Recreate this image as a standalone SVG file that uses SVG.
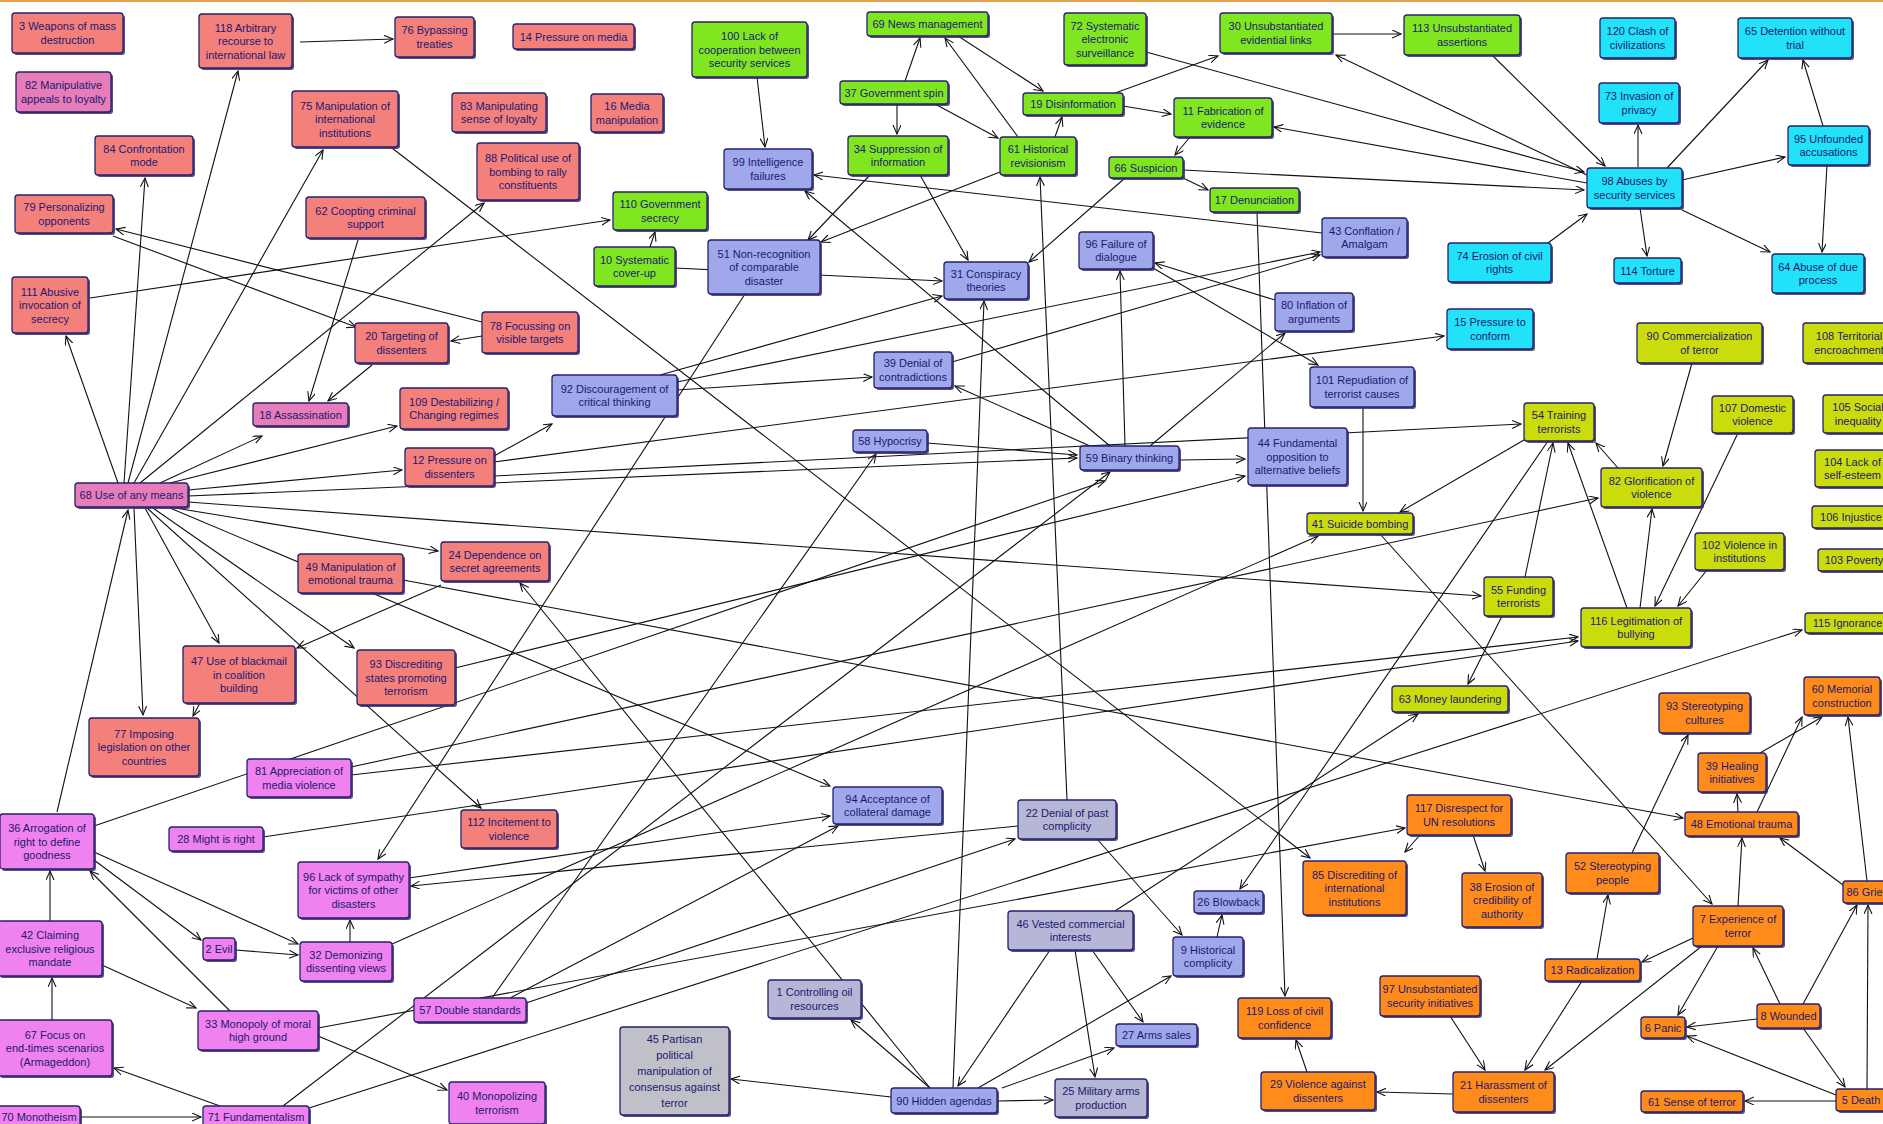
<svg xmlns="http://www.w3.org/2000/svg" width="1883" height="1124" viewBox="0 0 1883 1124">
<defs>
<marker id="ah" markerWidth="12" markerHeight="12" refX="9" refY="4" orient="auto" markerUnits="userSpaceOnUse"><path d="M0,0 L9,4 L0,8" fill="none" stroke="#111" stroke-width="1.1"/></marker>
<style>
.b{stroke:#26206e;stroke-width:1.3}
.sh{fill:#3a2f6a;opacity:.85}
.s{fill:#F4807C}.pm{fill:#E67DB8}.v{fill:#EF82EF}.g{fill:#80E620}.l{fill:#A0A8EC}.gl{fill:#B6B6D6}.gr{fill:#C0C0C8}.c{fill:#22E2FA}.y{fill:#CBDC0C}.o{fill:#FF8C1A}
text{font-family:"Liberation Sans",Arial,sans-serif;font-size:11px;fill:#1c1870;text-anchor:middle}
#connectors line{stroke:#111;stroke-width:1.1;marker-end:url(#ah)}
</style>
</defs>
<rect x="0" y="0" width="1883" height="1124" fill="#fff"/>
<rect x="0" y="0" width="1883" height="2" fill="#E8A050"/>
<g id="connectors">
<line x1="300" y1="42" x2="393" y2="39"/>
<line x1="128" y1="483" x2="238" y2="71"/>
<line x1="124" y1="483" x2="145" y2="178"/>
<line x1="134" y1="483" x2="323" y2="150"/>
<line x1="118" y1="483" x2="66" y2="336"/>
<line x1="140" y1="483" x2="484" y2="203"/>
<line x1="358" y1="240" x2="309" y2="401"/>
<line x1="372" y1="365" x2="328" y2="401"/>
<line x1="482" y1="336" x2="451" y2="341"/>
<line x1="482" y1="322" x2="116" y2="229"/>
<line x1="113" y1="236" x2="356" y2="327"/>
<line x1="90" y1="298" x2="610" y2="220"/>
<line x1="392" y1="148" x2="1310" y2="858"/>
<line x1="170" y1="483" x2="397" y2="426"/>
<line x1="188" y1="490" x2="402" y2="470"/>
<line x1="160" y1="483" x2="262" y2="436"/>
<line x1="175" y1="508" x2="438" y2="551"/>
<line x1="145" y1="508" x2="219" y2="643"/>
<line x1="134" y1="508" x2="143" y2="715"/>
<line x1="153" y1="508" x2="354" y2="648"/>
<line x1="57" y1="812" x2="128" y2="510"/>
<line x1="494" y1="456" x2="552" y2="424"/>
<line x1="494" y1="462" x2="1444" y2="336"/>
<line x1="494" y1="476" x2="1521" y2="424"/>
<line x1="188" y1="496" x2="1077" y2="458"/>
<line x1="927" y1="443" x2="1077" y2="455"/>
<line x1="1179" y1="460" x2="1245" y2="459"/>
<line x1="455" y1="668" x2="1245" y2="476"/>
<line x1="188" y1="502" x2="1481" y2="596"/>
<line x1="170" y1="508" x2="830" y2="786"/>
<line x1="147" y1="508" x2="481" y2="808"/>
<line x1="441" y1="585" x2="297" y2="648"/>
<line x1="200" y1="703" x2="193" y2="716"/>
<line x1="745" y1="294" x2="378" y2="859"/>
<line x1="757" y1="77" x2="765" y2="147"/>
<line x1="905" y1="81" x2="920" y2="38"/>
<line x1="897" y1="104" x2="897" y2="134"/>
<line x1="935" y1="104" x2="998" y2="138"/>
<line x1="1018" y1="137" x2="945" y2="38"/>
<line x1="958" y1="36" x2="1043" y2="91"/>
<line x1="1055" y1="137" x2="1062" y2="117"/>
<line x1="1123" y1="106" x2="1171" y2="114"/>
<line x1="1115" y1="93" x2="1218" y2="56"/>
<line x1="1332" y1="34" x2="1401" y2="34"/>
<line x1="1146" y1="52" x2="1584" y2="172"/>
<line x1="1493" y1="56" x2="1605" y2="166"/>
<line x1="1638" y1="167" x2="1638" y2="125"/>
<line x1="1667" y1="168" x2="1768" y2="60"/>
<line x1="1823" y1="126" x2="1803" y2="60"/>
<line x1="1682" y1="180" x2="1785" y2="157"/>
<line x1="1827" y1="165" x2="1822" y2="252"/>
<line x1="1682" y1="210" x2="1770" y2="252"/>
<line x1="1640" y1="208" x2="1647" y2="256"/>
<line x1="1548" y1="243" x2="1587" y2="214"/>
<line x1="1587" y1="175" x2="1336" y2="55"/>
<line x1="1587" y1="183" x2="1274" y2="127"/>
<line x1="1183" y1="170" x2="1584" y2="190"/>
<line x1="1190" y1="137" x2="1175" y2="155"/>
<line x1="1183" y1="178" x2="1208" y2="190"/>
<line x1="1125" y1="178" x2="1029" y2="262"/>
<line x1="1322" y1="233" x2="814" y2="175"/>
<line x1="1000" y1="172" x2="821" y2="242"/>
<line x1="870" y1="175" x2="808" y2="240"/>
<line x1="920" y1="175" x2="968" y2="260"/>
<line x1="1110" y1="446" x2="805" y2="191"/>
<line x1="1090" y1="446" x2="955" y2="386"/>
<line x1="1150" y1="446" x2="1285" y2="333"/>
<line x1="677" y1="382" x2="1320" y2="252"/>
<line x1="952" y1="362" x2="1320" y2="255"/>
<line x1="1125" y1="446" x2="1120" y2="271"/>
<line x1="953" y1="1088" x2="984" y2="301"/>
<line x1="1067" y1="800" x2="1040" y2="177"/>
<line x1="1257" y1="212" x2="1285" y2="996"/>
<line x1="1363" y1="408" x2="1363" y2="511"/>
<line x1="1524" y1="440" x2="1400" y2="512"/>
<line x1="1380" y1="534" x2="1712" y2="904"/>
<line x1="677" y1="390" x2="872" y2="377"/>
<line x1="930" y1="1088" x2="520" y2="583"/>
<line x1="492" y1="998" x2="876" y2="454"/>
<line x1="94" y1="826" x2="1105" y2="481"/>
<line x1="351" y1="767" x2="1598" y2="498"/>
<line x1="351" y1="775" x2="1578" y2="637"/>
<line x1="263" y1="837" x2="1578" y2="641"/>
<line x1="309" y1="1108" x2="1802" y2="630"/>
<line x1="283" y1="1106" x2="1110" y2="472"/>
<line x1="1018" y1="826" x2="411" y2="886"/>
<line x1="526" y1="1003" x2="1015" y2="839"/>
<line x1="409" y1="878" x2="830" y2="816"/>
<line x1="510" y1="998" x2="838" y2="826"/>
<line x1="1548" y1="441" x2="1240" y2="889"/>
<line x1="1525" y1="577" x2="1553" y2="443"/>
<line x1="1627" y1="608" x2="1568" y2="443"/>
<line x1="1618" y1="468" x2="1596" y2="443"/>
<line x1="1692" y1="363" x2="1663" y2="466"/>
<line x1="1640" y1="608" x2="1652" y2="509"/>
<line x1="1738" y1="433" x2="1655" y2="606"/>
<line x1="1707" y1="570" x2="1678" y2="606"/>
<line x1="1502" y1="616" x2="1468" y2="684"/>
<line x1="1757" y1="812" x2="1802" y2="717"/>
<line x1="1867" y1="881" x2="1848" y2="717"/>
<line x1="1760" y1="753" x2="1822" y2="717"/>
<line x1="1632" y1="853" x2="1688" y2="735"/>
<line x1="1420" y1="835" x2="1405" y2="852"/>
<line x1="1473" y1="835" x2="1485" y2="871"/>
<line x1="403" y1="580" x2="1683" y2="818"/>
<line x1="1738" y1="906" x2="1742" y2="838"/>
<line x1="1738" y1="812" x2="1737" y2="794"/>
<line x1="1843" y1="885" x2="1780" y2="838"/>
<line x1="1867" y1="1089" x2="1868" y2="905"/>
<line x1="1803" y1="1004" x2="1857" y2="905"/>
<line x1="1597" y1="959" x2="1608" y2="895"/>
<line x1="1693" y1="938" x2="1642" y2="962"/>
<line x1="1718" y1="946" x2="1678" y2="1015"/>
<line x1="1702" y1="946" x2="1545" y2="1070"/>
<line x1="1582" y1="981" x2="1525" y2="1070"/>
<line x1="1450" y1="1016" x2="1485" y2="1070"/>
<line x1="1780" y1="1004" x2="1753" y2="948"/>
<line x1="1757" y1="1019" x2="1687" y2="1027"/>
<line x1="1803" y1="1028" x2="1845" y2="1087"/>
<line x1="1836" y1="1095" x2="1687" y2="1036"/>
<line x1="1836" y1="1101" x2="1745" y2="1101"/>
<line x1="1453" y1="1094" x2="1377" y2="1092"/>
<line x1="1307" y1="1072" x2="1296" y2="1040"/>
<line x1="1050" y1="950" x2="958" y2="1086"/>
<line x1="1075" y1="950" x2="1095" y2="1077"/>
<line x1="1092" y1="950" x2="1143" y2="1022"/>
<line x1="1002" y1="1088" x2="1114" y2="1048"/>
<line x1="997" y1="1101" x2="1053" y2="1100"/>
<line x1="978" y1="1088" x2="1171" y2="976"/>
<line x1="1217" y1="937" x2="1222" y2="915"/>
<line x1="1097" y1="839" x2="1182" y2="935"/>
<line x1="1115" y1="911" x2="1418" y2="714"/>
<line x1="930" y1="1088" x2="851" y2="1020"/>
<line x1="891" y1="1097" x2="731" y2="1079"/>
<line x1="675" y1="268" x2="942" y2="281"/>
<line x1="650" y1="247" x2="655" y2="232"/>
<line x1="660" y1="375" x2="942" y2="296"/>
<line x1="1275" y1="300" x2="1155" y2="263"/>
<line x1="1153" y1="268" x2="1318" y2="365"/>
<line x1="80" y1="1117" x2="201" y2="1117"/>
<line x1="220" y1="1106" x2="114" y2="1068"/>
<line x1="52" y1="1020" x2="52" y2="978"/>
<line x1="50" y1="921" x2="50" y2="871"/>
<line x1="102" y1="965" x2="196" y2="1008"/>
<line x1="94" y1="860" x2="201" y2="940"/>
<line x1="94" y1="852" x2="298" y2="944"/>
<line x1="235" y1="950" x2="298" y2="955"/>
<line x1="350" y1="942" x2="350" y2="920"/>
<line x1="230" y1="1011" x2="90" y2="871"/>
<line x1="318" y1="1036" x2="447" y2="1090"/>
<line x1="318" y1="1028" x2="1405" y2="828"/>
<line x1="392" y1="944" x2="1318" y2="536"/>
</g>
<g id="nodes">
<g id="n3"><rect class="sh" x="14" y="15" width="111" height="40" rx="3"/><rect class="b s" x="12" y="13" width="111" height="40" rx="3"/><text x="67.5" y="30.25">3 Weapons of mass<tspan x="67.5" dy="13.5">destruction</tspan></text></g>
<g id="n82a"><rect class="sh" x="18" y="74" width="95" height="40" rx="3"/><rect class="b pm" x="16" y="72" width="95" height="40" rx="3"/><text x="63.5" y="89.25">82 Manipulative<tspan x="63.5" dy="13.5">appeals to loyalty</tspan></text></g>
<g id="n118"><rect class="sh" x="201" y="16" width="93" height="54" rx="3"/><rect class="b s" x="199" y="14" width="93" height="54" rx="3"/><text x="245.5" y="31.5">118 Arbitrary<tspan x="245.5" dy="13.5">recourse to</tspan><tspan x="245.5" dy="13.5">international law</tspan></text></g>
<g id="n76"><rect class="sh" x="397" y="19" width="79" height="40" rx="3"/><rect class="b s" x="395" y="17" width="79" height="40" rx="3"/><text x="434.5" y="34.25">76 Bypassing<tspan x="434.5" dy="13.5">treaties</tspan></text></g>
<g id="n14"><rect class="sh" x="515" y="26" width="121" height="25" rx="3"/><rect class="b s" x="513" y="24" width="121" height="25" rx="3"/><text x="573.5" y="40.5">14 Pressure on media</text></g>
<g id="n84"><rect class="sh" x="97" y="138" width="98" height="39" rx="3"/><rect class="b s" x="95" y="136" width="98" height="39" rx="3"/><text x="144" y="152.75">84 Confrontation<tspan x="144" dy="13.5">mode</tspan></text></g>
<g id="n75"><rect class="sh" x="294" y="93" width="106" height="56" rx="3"/><rect class="b s" x="292" y="91" width="106" height="56" rx="3"/><text x="345" y="109.5">75 Manipulation of<tspan x="345" dy="13.5">international</tspan><tspan x="345" dy="13.5">institutions</tspan></text></g>
<g id="n83"><rect class="sh" x="454" y="95" width="94" height="39" rx="3"/><rect class="b s" x="452" y="93" width="94" height="39" rx="3"/><text x="499" y="109.75">83 Manipulating<tspan x="499" dy="13.5">sense of loyalty</tspan></text></g>
<g id="n16"><rect class="sh" x="593" y="96" width="72" height="38" rx="3"/><rect class="b s" x="591" y="94" width="72" height="38" rx="3"/><text x="627" y="110.25">16 Media<tspan x="627" dy="13.5">manipulation</tspan></text></g>
<g id="n88"><rect class="sh" x="479" y="145" width="102" height="57" rx="3"/><rect class="b s" x="477" y="143" width="102" height="57" rx="3"/><text x="528" y="162">88 Political use of<tspan x="528" dy="13.5">bombing to rally</tspan><tspan x="528" dy="13.5">constituents</tspan></text></g>
<g id="n79"><rect class="sh" x="17" y="197" width="98" height="38" rx="3"/><rect class="b s" x="15" y="195" width="98" height="38" rx="3"/><text x="64" y="211.25">79 Personalizing<tspan x="64" dy="13.5">opponents</tspan></text></g>
<g id="n62"><rect class="sh" x="308" y="199" width="119" height="41" rx="3"/><rect class="b s" x="306" y="197" width="119" height="41" rx="3"/><text x="365.5" y="214.75">62 Coopting criminal<tspan x="365.5" dy="13.5">support</tspan></text></g>
<g id="n111"><rect class="sh" x="14" y="279" width="76" height="56" rx="3"/><rect class="b s" x="12" y="277" width="76" height="56" rx="3"/><text x="50" y="295.5">111 Abusive<tspan x="50" dy="13.5">invocation of</tspan><tspan x="50" dy="13.5">secrecy</tspan></text></g>
<g id="n20"><rect class="sh" x="357" y="325" width="93" height="40" rx="3"/><rect class="b s" x="355" y="323" width="93" height="40" rx="3"/><text x="401.5" y="340.25">20 Targeting of<tspan x="401.5" dy="13.5">dissenters</tspan></text></g>
<g id="n78"><rect class="sh" x="484" y="314" width="96" height="41" rx="3"/><rect class="b s" x="482" y="312" width="96" height="41" rx="3"/><text x="530" y="329.75">78 Focussing on<tspan x="530" dy="13.5">visible targets</tspan></text></g>
<g id="n109"><rect class="sh" x="402" y="390" width="108" height="41" rx="3"/><rect class="b s" x="400" y="388" width="108" height="41" rx="3"/><text x="454" y="405.75">109 Destabilizing /<tspan x="454" dy="13.5">Changing regimes</tspan></text></g>
<g id="n12"><rect class="sh" x="407" y="450" width="89" height="38" rx="3"/><rect class="b s" x="405" y="448" width="89" height="38" rx="3"/><text x="449.5" y="464.25">12 Pressure on<tspan x="449.5" dy="13.5">dissenters</tspan></text></g>
<g id="n24"><rect class="sh" x="443" y="544" width="108" height="39" rx="3"/><rect class="b s" x="441" y="542" width="108" height="39" rx="3"/><text x="495" y="558.75">24 Dependence on<tspan x="495" dy="13.5">secret agreements</tspan></text></g>
<g id="n49"><rect class="sh" x="300" y="556" width="105" height="39" rx="3"/><rect class="b s" x="298" y="554" width="105" height="39" rx="3"/><text x="350.5" y="570.75">49 Manipulation of<tspan x="350.5" dy="13.5">emotional trauma</tspan></text></g>
<g id="n47"><rect class="sh" x="185" y="648" width="112" height="57" rx="3"/><rect class="b s" x="183" y="646" width="112" height="57" rx="3"/><text x="239" y="665">47 Use of blackmail<tspan x="239" dy="13.5">in coalition</tspan><tspan x="239" dy="13.5">building</tspan></text></g>
<g id="n93a"><rect class="sh" x="359" y="652" width="98" height="55" rx="3"/><rect class="b s" x="357" y="650" width="98" height="55" rx="3"/><text x="406" y="668">93 Discrediting<tspan x="406" dy="13.5">states promoting</tspan><tspan x="406" dy="13.5">terrorism</tspan></text></g>
<g id="n77"><rect class="sh" x="91" y="720" width="110" height="58" rx="3"/><rect class="b s" x="89" y="718" width="110" height="58" rx="3"/><text x="144" y="737.5">77 Imposing<tspan x="144" dy="13.5">legislation on other</tspan><tspan x="144" dy="13.5">countries</tspan></text></g>
<g id="n112"><rect class="sh" x="463" y="812" width="96" height="38" rx="3"/><rect class="b s" x="461" y="810" width="96" height="38" rx="3"/><text x="509" y="826.25">112 Incitement to<tspan x="509" dy="13.5">violence</tspan></text></g>
<g id="n68"><rect class="sh" x="77" y="485" width="113" height="24" rx="3"/><rect class="b pm" x="75" y="483" width="113" height="24" rx="3"/><text x="131.5" y="499">68 Use of any means</text></g>
<g id="n18"><rect class="sh" x="255" y="405" width="95" height="23" rx="3"/><rect class="b pm" x="253" y="403" width="95" height="23" rx="3"/><text x="300.5" y="418.5">18 Assassination</text></g>
<g id="n81"><rect class="sh" x="249" y="761" width="104" height="38" rx="3"/><rect class="b v" x="247" y="759" width="104" height="38" rx="3"/><text x="299" y="775.25">81 Appreciation of<tspan x="299" dy="13.5">media violence</tspan></text></g>
<g id="n36"><rect class="sh" x="2" y="816" width="94" height="55" rx="3"/><rect class="b v" x="0" y="814" width="94" height="55" rx="3"/><text x="47" y="832">36 Arrogation of<tspan x="47" dy="13.5">right to define</tspan><tspan x="47" dy="13.5">goodness</tspan></text></g>
<g id="n28"><rect class="sh" x="171" y="829" width="94" height="24" rx="3"/><rect class="b v" x="169" y="827" width="94" height="24" rx="3"/><text x="216" y="843">28 Might is right</text></g>
<g id="n96a"><rect class="sh" x="300" y="864" width="111" height="56" rx="3"/><rect class="b v" x="298" y="862" width="111" height="56" rx="3"/><text x="353.5" y="880.5">96 Lack of sympathy<tspan x="353.5" dy="13.5">for victims of other</tspan><tspan x="353.5" dy="13.5">disasters</tspan></text></g>
<g id="n42"><rect class="sh" x="0" y="923" width="104" height="55" rx="3"/><rect class="b v" x="-2" y="921" width="104" height="55" rx="3"/><text x="50" y="939">42 Claiming<tspan x="50" dy="13.5">exclusive religious</tspan><tspan x="50" dy="13.5">mandate</tspan></text></g>
<g id="n2"><rect class="sh" x="205" y="940" width="32" height="22" rx="3"/><rect class="b v" x="203" y="938" width="32" height="22" rx="3"/><text x="219" y="953">2 Evil</text></g>
<g id="n32"><rect class="sh" x="302" y="944" width="92" height="39" rx="3"/><rect class="b v" x="300" y="942" width="92" height="39" rx="3"/><text x="346" y="958.75">32 Demonizing<tspan x="346" dy="13.5">dissenting views</tspan></text></g>
<g id="n57"><rect class="sh" x="416" y="1000" width="112" height="24" rx="3"/><rect class="b v" x="414" y="998" width="112" height="24" rx="3"/><text x="470" y="1014">57 Double standards</text></g>
<g id="n33"><rect class="sh" x="200" y="1013" width="120" height="39" rx="3"/><rect class="b v" x="198" y="1011" width="120" height="39" rx="3"/><text x="258" y="1027.75">33 Monopoly of moral<tspan x="258" dy="13.5">high ground</tspan></text></g>
<g id="n67"><rect class="sh" x="0" y="1022" width="114" height="56" rx="3"/><rect class="b v" x="-2" y="1020" width="114" height="56" rx="3"/><text x="55" y="1038.5">67 Focus on<tspan x="55" dy="13.5">end-times scenarios</tspan><tspan x="55" dy="13.5">(Armageddon)</tspan></text></g>
<g id="n70"><rect class="sh" x="0" y="1108" width="82" height="22" rx="3"/><rect class="b v" x="-2" y="1106" width="82" height="22" rx="3"/><text x="39" y="1121">70 Monotheism</text></g>
<g id="n71"><rect class="sh" x="205" y="1108" width="106" height="22" rx="3"/><rect class="b v" x="203" y="1106" width="106" height="22" rx="3"/><text x="256" y="1121">71 Fundamentalism</text></g>
<g id="n40"><rect class="sh" x="451" y="1084" width="96" height="42" rx="3"/><rect class="b v" x="449" y="1082" width="96" height="42" rx="3"/><text x="497" y="1100.25">40 Monopolizing<tspan x="497" dy="13.5">terrorism</tspan></text></g>
<g id="n100"><rect class="sh" x="694" y="24" width="115" height="55" rx="3"/><rect class="b g" x="692" y="22" width="115" height="55" rx="3"/><text x="749.5" y="40">100 Lack of<tspan x="749.5" dy="13.5">cooperation between</tspan><tspan x="749.5" dy="13.5">security services</tspan></text></g>
<g id="n69"><rect class="sh" x="869" y="14" width="121" height="24" rx="3"/><rect class="b g" x="867" y="12" width="121" height="24" rx="3"/><text x="927.5" y="28">69 News management</text></g>
<g id="n37"><rect class="sh" x="842" y="83" width="108" height="23" rx="3"/><rect class="b g" x="840" y="81" width="108" height="23" rx="3"/><text x="894" y="96.5">37 Government spin</text></g>
<g id="n34"><rect class="sh" x="850" y="138" width="100" height="39" rx="3"/><rect class="b g" x="848" y="136" width="100" height="39" rx="3"/><text x="898" y="152.75">34 Suppression of<tspan x="898" dy="13.5">information</tspan></text></g>
<g id="n110"><rect class="sh" x="615" y="194" width="94" height="38" rx="3"/><rect class="b g" x="613" y="192" width="94" height="38" rx="3"/><text x="660" y="208.25">110 Government<tspan x="660" dy="13.5">secrecy</tspan></text></g>
<g id="n10"><rect class="sh" x="596" y="249" width="81" height="39" rx="3"/><rect class="b g" x="594" y="247" width="81" height="39" rx="3"/><text x="634.5" y="263.75">10 Systematic<tspan x="634.5" dy="13.5">cover-up</tspan></text></g>
<g id="n72"><rect class="sh" x="1066" y="15" width="82" height="52" rx="3"/><rect class="b g" x="1064" y="13" width="82" height="52" rx="3"/><text x="1105" y="29.5">72 Systematic<tspan x="1105" dy="13.5">electronic</tspan><tspan x="1105" dy="13.5">surveillance</tspan></text></g>
<g id="n30"><rect class="sh" x="1222" y="15" width="112" height="40" rx="3"/><rect class="b g" x="1220" y="13" width="112" height="40" rx="3"/><text x="1276" y="30.25">30 Unsubstantiated<tspan x="1276" dy="13.5">evidential links</tspan></text></g>
<g id="n113"><rect class="sh" x="1406" y="17" width="116" height="40" rx="3"/><rect class="b g" x="1404" y="15" width="116" height="40" rx="3"/><text x="1462" y="32.25">113 Unsubstantiated<tspan x="1462" dy="13.5">assertions</tspan></text></g>
<g id="n19"><rect class="sh" x="1025" y="95" width="100" height="22" rx="3"/><rect class="b g" x="1023" y="93" width="100" height="22" rx="3"/><text x="1073" y="108">19 Disinformation</text></g>
<g id="n11"><rect class="sh" x="1176" y="100" width="98" height="39" rx="3"/><rect class="b g" x="1174" y="98" width="98" height="39" rx="3"/><text x="1223" y="114.75">11 Fabrication of<tspan x="1223" dy="13.5">evidence</tspan></text></g>
<g id="n61a"><rect class="sh" x="1002" y="139" width="76" height="38" rx="3"/><rect class="b g" x="1000" y="137" width="76" height="38" rx="3"/><text x="1038" y="153.25">61 Historical<tspan x="1038" dy="13.5">revisionism</tspan></text></g>
<g id="n66"><rect class="sh" x="1111" y="159" width="74" height="21" rx="3"/><rect class="b g" x="1109" y="157" width="74" height="21" rx="3"/><text x="1146" y="171.5">66 Suspicion</text></g>
<g id="n17"><rect class="sh" x="1212" y="190" width="89" height="24" rx="3"/><rect class="b g" x="1210" y="188" width="89" height="24" rx="3"/><text x="1254.5" y="204">17 Denunciation</text></g>
<g id="n99"><rect class="sh" x="726" y="151" width="88" height="40" rx="3"/><rect class="b l" x="724" y="149" width="88" height="40" rx="3"/><text x="768" y="166.25">99 Intelligence<tspan x="768" dy="13.5">failures</tspan></text></g>
<g id="n51"><rect class="sh" x="710" y="242" width="112" height="54" rx="3"/><rect class="b l" x="708" y="240" width="112" height="54" rx="3"/><text x="764" y="257.5">51 Non-recognition<tspan x="764" dy="13.5">of comparable</tspan><tspan x="764" dy="13.5">disaster</tspan></text></g>
<g id="n31"><rect class="sh" x="946" y="264" width="84" height="37" rx="3"/><rect class="b l" x="944" y="262" width="84" height="37" rx="3"/><text x="986" y="277.75">31 Conspiracy<tspan x="986" dy="13.5">theories</tspan></text></g>
<g id="n96b"><rect class="sh" x="1081" y="234" width="74" height="37" rx="3"/><rect class="b l" x="1079" y="232" width="74" height="37" rx="3"/><text x="1116" y="247.75">96 Failure of<tspan x="1116" dy="13.5">dialogue</tspan></text></g>
<g id="n43"><rect class="sh" x="1324" y="220" width="85" height="39" rx="3"/><rect class="b l" x="1322" y="218" width="85" height="39" rx="3"/><text x="1364.5" y="234.75">43 Conflation /<tspan x="1364.5" dy="13.5">Amalgam</tspan></text></g>
<g id="n80"><rect class="sh" x="1277" y="295" width="78" height="38" rx="3"/><rect class="b l" x="1275" y="293" width="78" height="38" rx="3"/><text x="1314" y="309.25">80 Inflation of<tspan x="1314" dy="13.5">arguments</tspan></text></g>
<g id="n39a"><rect class="sh" x="876" y="354" width="78" height="36" rx="3"/><rect class="b l" x="874" y="352" width="78" height="36" rx="3"/><text x="913" y="367.25">39 Denial of<tspan x="913" dy="13.5">contradictions</tspan></text></g>
<g id="n92"><rect class="sh" x="554" y="377" width="125" height="41" rx="3"/><rect class="b l" x="552" y="375" width="125" height="41" rx="3"/><text x="614.5" y="392.75">92 Discouragement of<tspan x="614.5" dy="13.5">critical thinking</tspan></text></g>
<g id="n58"><rect class="sh" x="855" y="432" width="74" height="22" rx="3"/><rect class="b l" x="853" y="430" width="74" height="22" rx="3"/><text x="890" y="445">58 Hypocrisy</text></g>
<g id="n59"><rect class="sh" x="1082" y="448" width="99" height="24" rx="3"/><rect class="b l" x="1080" y="446" width="99" height="24" rx="3"/><text x="1129.5" y="462">59 Binary thinking</text></g>
<g id="n44"><rect class="sh" x="1250" y="430" width="99" height="57" rx="3"/><rect class="b l" x="1248" y="428" width="99" height="57" rx="3"/><text x="1297.5" y="447">44 Fundamental<tspan x="1297.5" dy="13.5">opposition to</tspan><tspan x="1297.5" dy="13.5">alternative beliefs</tspan></text></g>
<g id="n101"><rect class="sh" x="1312" y="369" width="104" height="40" rx="3"/><rect class="b l" x="1310" y="367" width="104" height="40" rx="3"/><text x="1362" y="384.25">101 Repudiation of<tspan x="1362" dy="13.5">terrorist causes</tspan></text></g>
<g id="n94"><rect class="sh" x="835" y="789" width="109" height="37" rx="3"/><rect class="b l" x="833" y="787" width="109" height="37" rx="3"/><text x="887.5" y="802.75">94 Acceptance of<tspan x="887.5" dy="13.5">collateral damage</tspan></text></g>
<g id="n26"><rect class="sh" x="1196" y="893" width="69" height="22" rx="3"/><rect class="b l" x="1194" y="891" width="69" height="22" rx="3"/><text x="1228.5" y="906">26 Blowback</text></g>
<g id="n9"><rect class="sh" x="1175" y="939" width="70" height="39" rx="3"/><rect class="b l" x="1173" y="937" width="70" height="39" rx="3"/><text x="1208" y="953.75">9 Historical<tspan x="1208" dy="13.5">complicity</tspan></text></g>
<g id="n27"><rect class="sh" x="1118" y="1026" width="81" height="22" rx="3"/><rect class="b l" x="1116" y="1024" width="81" height="22" rx="3"/><text x="1156.5" y="1039">27 Arms sales</text></g>
<g id="n22"><rect class="sh" x="1020" y="802" width="98" height="39" rx="3"/><rect class="b gl" x="1018" y="800" width="98" height="39" rx="3"/><text x="1067" y="816.75">22 Denial of past<tspan x="1067" dy="13.5">complicity</tspan></text></g>
<g id="n46"><rect class="sh" x="1010" y="913" width="125" height="39" rx="3"/><rect class="b gl" x="1008" y="911" width="125" height="39" rx="3"/><text x="1070.5" y="927.75">46 Vested commercial<tspan x="1070.5" dy="13.5">interests</tspan></text></g>
<g id="n1"><rect class="sh" x="770" y="982" width="93" height="38" rx="3"/><rect class="b gl" x="768" y="980" width="93" height="38" rx="3"/><text x="814.5" y="996.25">1 Controlling oil<tspan x="814.5" dy="13.5">resources</tspan></text></g>
<g id="n25"><rect class="sh" x="1057" y="1081" width="92" height="38" rx="3"/><rect class="b gl" x="1055" y="1079" width="92" height="38" rx="3"/><text x="1101" y="1095.25">25 Military arms<tspan x="1101" dy="13.5">production</tspan></text></g>
<g id="n90h"><rect class="sh" x="893" y="1090" width="106" height="25" rx="3"/><rect class="b l" x="891" y="1088" width="106" height="25" rx="3"/><text x="944" y="1104.5">90 Hidden agendas</text></g>
<g id="n45"><rect class="sh" x="622" y="1029" width="109" height="88" rx="3"/><rect class="b gr" x="620" y="1027" width="109" height="88" rx="3"/><text x="674.5" y="1043">45 Partisan<tspan x="674.5" dy="16">political</tspan><tspan x="674.5" dy="16">manipulation of</tspan><tspan x="674.5" dy="16">consensus against</tspan><tspan x="674.5" dy="16">terror</tspan></text></g>
<g id="n120"><rect class="sh" x="1602" y="20" width="75" height="40" rx="3"/><rect class="b c" x="1600" y="18" width="75" height="40" rx="3"/><text x="1637.5" y="35.25">120 Clash of<tspan x="1637.5" dy="13.5">civilizations</tspan></text></g>
<g id="n65"><rect class="sh" x="1740" y="20" width="114" height="40" rx="3"/><rect class="b c" x="1738" y="18" width="114" height="40" rx="3"/><text x="1795" y="35.25">65 Detention without<tspan x="1795" dy="13.5">trial</tspan></text></g>
<g id="n73"><rect class="sh" x="1601" y="85" width="80" height="40" rx="3"/><rect class="b c" x="1599" y="83" width="80" height="40" rx="3"/><text x="1639" y="100.25">73 Invasion of<tspan x="1639" dy="13.5">privacy</tspan></text></g>
<g id="n95"><rect class="sh" x="1790" y="128" width="81" height="39" rx="3"/><rect class="b c" x="1788" y="126" width="81" height="39" rx="3"/><text x="1828.5" y="142.75">95 Unfounded<tspan x="1828.5" dy="13.5">accusations</tspan></text></g>
<g id="n98"><rect class="sh" x="1589" y="170" width="95" height="40" rx="3"/><rect class="b c" x="1587" y="168" width="95" height="40" rx="3"/><text x="1634.5" y="185.25">98 Abuses by<tspan x="1634.5" dy="13.5">security services</tspan></text></g>
<g id="n74"><rect class="sh" x="1450" y="245" width="103" height="39" rx="3"/><rect class="b c" x="1448" y="243" width="103" height="39" rx="3"/><text x="1499.5" y="259.75">74 Erosion of civil<tspan x="1499.5" dy="13.5">rights</tspan></text></g>
<g id="n114"><rect class="sh" x="1616" y="260" width="67" height="25" rx="3"/><rect class="b c" x="1614" y="258" width="67" height="25" rx="3"/><text x="1647.5" y="274.5">114 Torture</text></g>
<g id="n64"><rect class="sh" x="1774" y="256" width="92" height="39" rx="3"/><rect class="b c" x="1772" y="254" width="92" height="39" rx="3"/><text x="1818" y="270.75">64 Abuse of due<tspan x="1818" dy="13.5">process</tspan></text></g>
<g id="n15"><rect class="sh" x="1449" y="311" width="86" height="40" rx="3"/><rect class="b c" x="1447" y="309" width="86" height="40" rx="3"/><text x="1490" y="326.25">15 Pressure to<tspan x="1490" dy="13.5">conform</tspan></text></g>
<g id="n90c"><rect class="sh" x="1639" y="325" width="125" height="40" rx="3"/><rect class="b y" x="1637" y="323" width="125" height="40" rx="3"/><text x="1699.5" y="340.25">90 Commercialization<tspan x="1699.5" dy="13.5">of terror</tspan></text></g>
<g id="n108"><rect class="sh" x="1805" y="325" width="92" height="40" rx="3"/><rect class="b y" x="1803" y="323" width="92" height="40" rx="3"/><text x="1849" y="340.25">108 Territorial<tspan x="1849" dy="13.5">encroachment</tspan></text></g>
<g id="n54"><rect class="sh" x="1526" y="405" width="70" height="38" rx="3"/><rect class="b y" x="1524" y="403" width="70" height="38" rx="3"/><text x="1559" y="419.25">54 Training<tspan x="1559" dy="13.5">terrorists</tspan></text></g>
<g id="n107"><rect class="sh" x="1714" y="398" width="81" height="37" rx="3"/><rect class="b y" x="1712" y="396" width="81" height="37" rx="3"/><text x="1752.5" y="411.75">107 Domestic<tspan x="1752.5" dy="13.5">violence</tspan></text></g>
<g id="n105"><rect class="sh" x="1825" y="397" width="70" height="38" rx="3"/><rect class="b y" x="1823" y="395" width="70" height="38" rx="3"/><text x="1858" y="411.25">105 Social<tspan x="1858" dy="13.5">inequality</tspan></text></g>
<g id="n82b"><rect class="sh" x="1603" y="470" width="101" height="39" rx="3"/><rect class="b y" x="1601" y="468" width="101" height="39" rx="3"/><text x="1651.5" y="484.75">82 Glorification of<tspan x="1651.5" dy="13.5">violence</tspan></text></g>
<g id="n104"><rect class="sh" x="1817" y="452" width="75" height="37" rx="3"/><rect class="b y" x="1815" y="450" width="75" height="37" rx="3"/><text x="1852.5" y="465.75">104 Lack of<tspan x="1852.5" dy="13.5">self-esteem</tspan></text></g>
<g id="n106"><rect class="sh" x="1814" y="508" width="78" height="22" rx="3"/><rect class="b y" x="1812" y="506" width="78" height="22" rx="3"/><text x="1851" y="521">106 Injustice</text></g>
<g id="n102"><rect class="sh" x="1697" y="535" width="89" height="37" rx="3"/><rect class="b y" x="1695" y="533" width="89" height="37" rx="3"/><text x="1739.5" y="548.75">102 Violence in<tspan x="1739.5" dy="13.5">institutions</tspan></text></g>
<g id="n103"><rect class="sh" x="1820" y="551" width="72" height="22" rx="3"/><rect class="b y" x="1818" y="549" width="72" height="22" rx="3"/><text x="1854" y="564">103 Poverty</text></g>
<g id="n41"><rect class="sh" x="1309" y="515" width="106" height="21" rx="3"/><rect class="b y" x="1307" y="513" width="106" height="21" rx="3"/><text x="1360" y="527.5">41 Suicide bombing</text></g>
<g id="n55"><rect class="sh" x="1486" y="579" width="69" height="39" rx="3"/><rect class="b y" x="1484" y="577" width="69" height="39" rx="3"/><text x="1518.5" y="593.75">55 Funding<tspan x="1518.5" dy="13.5">terrorists</tspan></text></g>
<g id="n116"><rect class="sh" x="1583" y="610" width="110" height="39" rx="3"/><rect class="b y" x="1581" y="608" width="110" height="39" rx="3"/><text x="1636" y="624.75">116 Legitimation of<tspan x="1636" dy="13.5">bullying</tspan></text></g>
<g id="n115"><rect class="sh" x="1807" y="615" width="85" height="20" rx="3"/><rect class="b y" x="1805" y="613" width="85" height="20" rx="3"/><text x="1847.5" y="627">115 Ignorance</text></g>
<g id="n63"><rect class="sh" x="1394" y="688" width="116" height="26" rx="3"/><rect class="b y" x="1392" y="686" width="116" height="26" rx="3"/><text x="1450" y="703">63 Money laundering</text></g>
<g id="n93b"><rect class="sh" x="1661" y="695" width="91" height="40" rx="3"/><rect class="b o" x="1659" y="693" width="91" height="40" rx="3"/><text x="1704.5" y="710.25">93 Stereotyping<tspan x="1704.5" dy="13.5">cultures</tspan></text></g>
<g id="n60"><rect class="sh" x="1806" y="679" width="76" height="38" rx="3"/><rect class="b o" x="1804" y="677" width="76" height="38" rx="3"/><text x="1842" y="693.25">60 Memorial<tspan x="1842" dy="13.5">construction</tspan></text></g>
<g id="n117"><rect class="sh" x="1409" y="797" width="104" height="40" rx="3"/><rect class="b o" x="1407" y="795" width="104" height="40" rx="3"/><text x="1459" y="812.25">117 Disrespect for<tspan x="1459" dy="13.5">UN resolutions</tspan></text></g>
<g id="n85"><rect class="sh" x="1305" y="863" width="103" height="54" rx="3"/><rect class="b o" x="1303" y="861" width="103" height="54" rx="3"/><text x="1354.5" y="878.5">85 Discrediting of<tspan x="1354.5" dy="13.5">international</tspan><tspan x="1354.5" dy="13.5">institutions</tspan></text></g>
<g id="n38"><rect class="sh" x="1464" y="875" width="80" height="54" rx="3"/><rect class="b o" x="1462" y="873" width="80" height="54" rx="3"/><text x="1502" y="890.5">38 Erosion of<tspan x="1502" dy="13.5">credibility of</tspan><tspan x="1502" dy="13.5">authority</tspan></text></g>
<g id="n119"><rect class="sh" x="1240" y="1000" width="93" height="40" rx="3"/><rect class="b o" x="1238" y="998" width="93" height="40" rx="3"/><text x="1284.5" y="1015.25">119 Loss of civil<tspan x="1284.5" dy="13.5">confidence</tspan></text></g>
<g id="n97"><rect class="sh" x="1382" y="978" width="100" height="40" rx="3"/><rect class="b o" x="1380" y="976" width="100" height="40" rx="3"/><text x="1430" y="993.25">97 Unsubstantiated<tspan x="1430" dy="13.5">security initiatives</tspan></text></g>
<g id="n29"><rect class="sh" x="1263" y="1074" width="114" height="38" rx="3"/><rect class="b o" x="1261" y="1072" width="114" height="38" rx="3"/><text x="1318" y="1088.25">29 Violence against<tspan x="1318" dy="13.5">dissenters</tspan></text></g>
<g id="n21"><rect class="sh" x="1455" y="1074" width="101" height="40" rx="3"/><rect class="b o" x="1453" y="1072" width="101" height="40" rx="3"/><text x="1503.5" y="1089.25">21 Harassment of<tspan x="1503.5" dy="13.5">dissenters</tspan></text></g>
<g id="n52"><rect class="sh" x="1568" y="855" width="93" height="40" rx="3"/><rect class="b o" x="1566" y="853" width="93" height="40" rx="3"/><text x="1612.5" y="870.25">52 Stereotyping<tspan x="1612.5" dy="13.5">people</tspan></text></g>
<g id="n13"><rect class="sh" x="1547" y="961" width="95" height="22" rx="3"/><rect class="b o" x="1545" y="959" width="95" height="22" rx="3"/><text x="1592.5" y="974">13 Radicalization</text></g>
<g id="n39h"><rect class="sh" x="1700" y="755" width="68" height="39" rx="3"/><rect class="b o" x="1698" y="753" width="68" height="39" rx="3"/><text x="1732" y="769.75">39 Healing<tspan x="1732" dy="13.5">initiatives</tspan></text></g>
<g id="n48"><rect class="sh" x="1687" y="814" width="113" height="24" rx="3"/><rect class="b o" x="1685" y="812" width="113" height="24" rx="3"/><text x="1741.5" y="828">48 Emotional trauma</text></g>
<g id="n7"><rect class="sh" x="1695" y="908" width="90" height="40" rx="3"/><rect class="b o" x="1693" y="906" width="90" height="40" rx="3"/><text x="1738" y="923.25">7 Experience of<tspan x="1738" dy="13.5">terror</tspan></text></g>
<g id="n86"><rect class="sh" x="1845" y="883" width="50" height="22" rx="3"/><rect class="b o" x="1843" y="881" width="50" height="22" rx="3"/><text x="1866" y="896">86 Grief</text></g>
<g id="n8"><rect class="sh" x="1759" y="1006" width="63" height="24" rx="3"/><rect class="b o" x="1757" y="1004" width="63" height="24" rx="3"/><text x="1788.5" y="1020">8 Wounded</text></g>
<g id="n6"><rect class="sh" x="1643" y="1019" width="44" height="21" rx="3"/><rect class="b o" x="1641" y="1017" width="44" height="21" rx="3"/><text x="1663" y="1031.5">6 Panic</text></g>
<g id="n5"><rect class="sh" x="1838" y="1091" width="50" height="22" rx="3"/><rect class="b o" x="1836" y="1089" width="50" height="22" rx="3"/><text x="1861" y="1104">5 Death</text></g>
<g id="n61s"><rect class="sh" x="1643" y="1093" width="102" height="21" rx="3"/><rect class="b o" x="1641" y="1091" width="102" height="21" rx="3"/><text x="1692" y="1105.5">61 Sense of terror</text></g>
</g>
</svg>
